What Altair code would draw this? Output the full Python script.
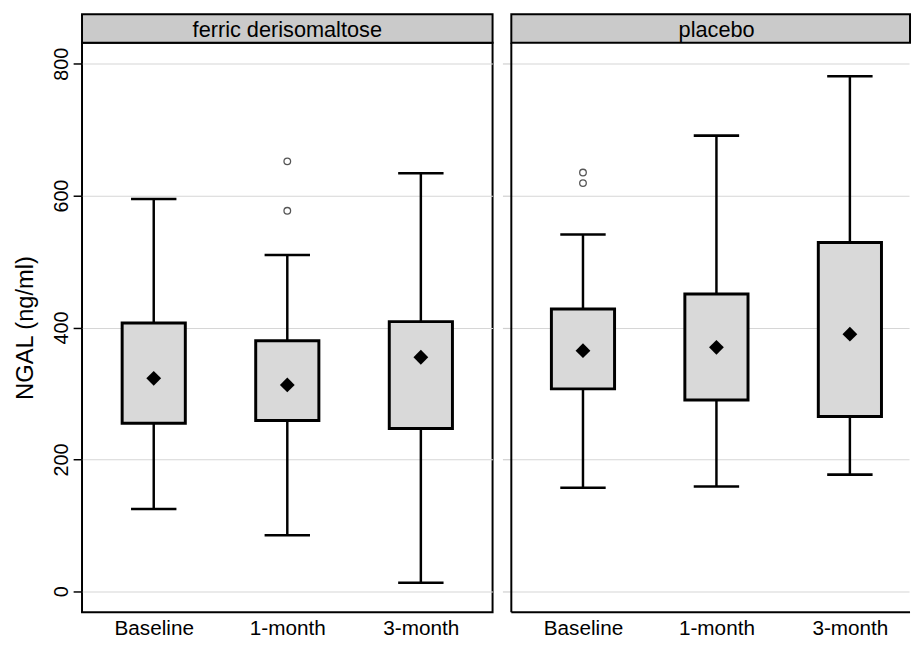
import altair as alt
import pandas as pd

timepoints = ["Baseline", "1-month", "3-month"]
groups = ["ferric derisomaltose", "placebo"]

# ferric derisomaltose
fd_lower = [125, 85, 13]
fd_q1 = [255, 259, 247]
fd_mean = [323, 313, 355]
fd_q3 = [407, 380, 409]
fd_upper = [595, 510, 634]
fd_out_time = ["1-month", "1-month"]
fd_out_val = [652, 577]

# placebo
pl_lower = [157, 159, 177]
pl_q1 = [307, 290, 265]
pl_mean = [365, 370, 390]
pl_q3 = [428, 451, 529]
pl_upper = [541, 691, 781]
pl_out_time = ["Baseline", "Baseline"]
pl_out_val = [635, 619]

y_ticks = [0, 200, 400, 600, 800]
y_domain = [-31.6, 831.8]

FONT = "Liberation Sans"
PANEL_H = 577
FULL_W = 416  # width of a full panel (the right one is cut at the page edge)
RIGHT_W = 403


def panel(group, lower, q1, mean, q3, upper, out_t, out_v, width, left):
    df = pd.DataFrame({"idx": list(range(len(timepoints))), "lower": lower,
                       "q1": q1, "mean": mean, "q3": q3, "upper": upper})
    odf = pd.DataFrame({"idx": [timepoints.index(t) for t in out_t],
                        "value": out_v})
    sdf = pd.DataFrame({"label": [group]})

    label_expr = "[" + ",".join("'%s'" % t for t in timepoints) + "][datum.value]"
    xaxis = alt.Axis(title=None, values=list(range(len(timepoints))),
                     labelExpr=label_expr, labelAngle=0, ticks=False,
                     domain=False, grid=False, labelFontSize=21,
                     labelPadding=6, labelColor="black", labelFlush=False,
                     labelOverlap=False, minExtent=0)
    n = len(timepoints)
    x_hi = -0.5 + n * width / FULL_W
    xscale = alt.Scale(domain=[-0.5, x_hi], nice=False, zero=False)
    if left:
        yaxis = alt.Axis(title="NGAL (ng/ml)", values=y_ticks, format="d",
                         labelAngle=270, labelAlign="center",
                         labelBaseline="alphabetic", labelFontSize=20,
                         labelPadding=6, labelColor="black",
                         tickSize=9, tickColor="black", tickWidth=1.5,
                         domain=False, gridColor="#d6d6d6", gridWidth=1.2,
                         titleFontSize=24, titleFontWeight="normal",
                         titleColor="black", titlePadding=14)
    else:
        yaxis = alt.Axis(title=None, values=y_ticks, labels=False,
                         tickSize=9, tickColor="#cfcfcf", tickWidth=1.2,
                         domain=False, gridColor="#d6d6d6", gridWidth=1.2,
                         minExtent=0, labelPadding=0)
    yscale = alt.Scale(domain=y_domain, nice=False, zero=False)

    X = alt.X("idx:Q", scale=xscale, axis=xaxis)

    base = alt.Chart(df)
    whisk_hi = base.mark_rule(color="black", strokeWidth=2.5).encode(
        x=X, y=alt.Y("q3:Q", scale=yscale, axis=yaxis), y2="upper:Q")
    whisk_lo = base.mark_rule(color="black", strokeWidth=2.5).encode(
        x=X, y=alt.Y("lower:Q", scale=yscale, axis=yaxis), y2="q1:Q")
    cap = dict(shape="M-1,0L1,0", filled=False, stroke="black",
               strokeWidth=2.6, size=46 * 46, opacity=1)
    cap_hi = base.mark_point(**cap).encode(
        x=X, y=alt.Y("upper:Q", scale=yscale, axis=yaxis))
    cap_lo = base.mark_point(**cap).encode(
        x=X, y=alt.Y("lower:Q", scale=yscale, axis=yaxis))
    box = base.mark_bar(size=64, fill="#d9d9d9", stroke="black",
                        strokeWidth=3).encode(
        x=X, y=alt.Y("q1:Q", scale=yscale, axis=yaxis), y2="q3:Q")
    mean_pt = base.mark_point(shape="diamond", filled=True, color="black",
                              size=225, opacity=1).encode(
        x=X, y=alt.Y("mean:Q", scale=yscale, axis=yaxis))
    outl = alt.Chart(odf).mark_point(shape="circle", filled=False,
                                     stroke="#555555", strokeWidth=1.3,
                                     size=45, opacity=1).encode(
        x=X, y=alt.Y("value:Q", scale=yscale, axis=yaxis))

    strip_right = width if left else width + 1
    strip_rect = alt.Chart(sdf).mark_rect(fill="#cacaca", stroke="black",
                                          strokeWidth=2).encode(
        x=alt.value(0), x2=alt.value(strip_right),
        y=alt.value(-29), y2=alt.value(0))
    strip_text = alt.Chart(sdf).mark_text(fontSize=22, baseline="middle",
                                          align="center", color="black",
                                          font=FONT).encode(
        x=alt.value(FULL_W / 2), y=alt.value(-13), text="label:N")

    layers = [whisk_hi, whisk_lo, cap_hi, cap_lo, box, mean_pt, outl,
              strip_rect, strip_text]
    props = dict(width=width, height=PANEL_H)
    if not left:
        # the right panel is cut by the page edge: frame drawn on left and bottom only
        frame_left = alt.Chart(sdf).mark_rule(color="black", strokeWidth=2).encode(
            x=alt.value(0), y=alt.value(0), y2=alt.value(PANEL_H))
        frame_bottom = alt.Chart(sdf).mark_rule(color="black", strokeWidth=2).encode(
            x=alt.value(0), x2=alt.value(width + 1), y=alt.value(PANEL_H))
        layers += [frame_left, frame_bottom]
        props["view"] = alt.ViewBackground(stroke="transparent")
    return alt.layer(*layers).properties(**props)


left_panel = panel(groups[0], fd_lower, fd_q1, fd_mean, fd_q3, fd_upper,
                   fd_out_time, fd_out_val, FULL_W, True)
right_panel = panel(groups[1], pl_lower, pl_q1, pl_mean, pl_q3, pl_upper,
                    pl_out_time, pl_out_val, RIGHT_W, False)

chart = alt.hconcat(left_panel, right_panel, spacing=6).resolve_scale(
    x="independent", y="independent").resolve_axis(
    x="independent", y="independent").properties(
    padding={"left": 5, "top": 0, "right": 0, "bottom": 0},
    background="white").configure(font=FONT).configure_view(
    stroke="black", strokeWidth=2)

chart.save("out.html", embed_options={"renderer": "svg", "actions": False})
